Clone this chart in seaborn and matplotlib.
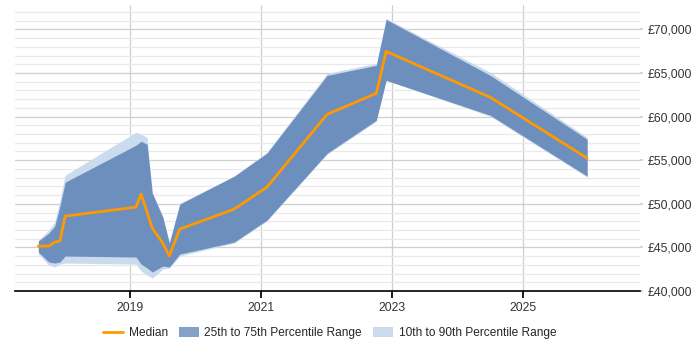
import matplotlib
matplotlib.use("Agg")
import matplotlib.pyplot as plt
import seaborn as sns
import pandas as pd
from matplotlib.ticker import FuncFormatter, MultipleLocator, FixedLocator
from matplotlib.patches import Patch
from matplotlib.lines import Line2D

# decimal years of each sample
years = [2017.60, 2017.76, 2017.85, 2017.93, 2018.01, 2019.09, 2019.17, 2019.26,
         2019.34, 2019.50, 2019.60, 2019.76, 2020.59, 2021.09, 2022.01, 2022.76,
         2022.91, 2024.50, 2025.98]
median = [45150, 45150, 45610, 45725, 48590, 49620, 51105, 49045,
          47215, 45495, 44010, 47100, 49390, 51910, 60265, 62670,
          67480, 62215, 55230]
p25 = [44465, 43320, 43205, 43320, 44010, 43895, 43090, 42635,
       42175, 42860, 42750, 44235, 45610, 48130, 55800, 59580,
       64160, 60150, 53170]
p75 = [45725, 46640, 47440, 49730, 52480, 56720, 57175, 56830,
       51220, 48470, 45500, 49960, 53170, 55800, 64730, 65880,
       71140, 64730, 57400]
p10 = [44235, 42975, 42750, 43090, 43205, 43090, 42290, 41830,
       41490, 42520, 42635, 44010, 45500, 48015, 55685, 59465,
       64160, 60035, 53055]
p90 = [45840, 46985, 47900, 50420, 53280, 58205, 57980, 57630,
       51335, 48590, 45610, 50075, 53170, 55915, 64960, 66105,
       71260, 65075, 57630]
x_ticks = [2019, 2021, 2023, 2025]
legend_labels = ["Median", "25th to 75th Percentile Range", "10th to 90th Percentile Range"]

df = pd.DataFrame({"year": years, "median": median, "p10": p10, "p25": p25,
                   "p75": p75, "p90": p90})

sns.set_theme(style="white")
plt.rcParams["font.family"] = ["Liberation Sans", "DejaVu Sans"]

fig = plt.figure(figsize=(7, 3.5), dpi=100)
ax = fig.add_axes([15/700, 1-291/350, 625/700, 286/350])

light_c = "#cbdbee"
dark_rgba = (30/255, 80/255, 150/255, 0.54)
orange = "#ff9900"

ax.fill_between(df["year"], df["p10"], df["p90"], color=light_c, lw=0, zorder=2)
ax.fill_between(df["year"], df["p25"], df["p75"], color=dark_rgba, lw=0, zorder=3)
sns.lineplot(data=df, x="year", y="median", color=orange, lw=2, ax=ax, zorder=4)

ax.set_xlim(2017.244, 2026.786)
ax.set_ylim(40000, 72800)

ax.yaxis.tick_right()
ax.yaxis.set_label_position("right")
ax.yaxis.set_major_locator(MultipleLocator(5000))
ax.yaxis.set_minor_locator(MultipleLocator(1000))
ax.yaxis.set_major_formatter(FuncFormatter(lambda v, p: "£{:,.0f}".format(v)))
ax.xaxis.set_major_locator(FixedLocator(x_ticks))
ax.xaxis.set_major_formatter(FuncFormatter(lambda v, p: "{:d}".format(int(round(v)))))

ax.grid(which="major", axis="both", color="#cfcfcf", lw=0.9, zorder=0)
ax.grid(which="minor", axis="y", color="#e9e9e9", lw=0.9, zorder=0)
ax.set_axisbelow(True)

for s in ["top", "left", "right"]:
    ax.spines[s].set_visible(False)
ax.spines["bottom"].set_color("black")
ax.spines["bottom"].set_linewidth(1.2)

ax.tick_params(axis="y", which="major", length=2.2, color="#cfcfcf", labelsize=8.8,
               labelcolor="#333333", pad=3.5, right=True, left=False)
ax.tick_params(axis="y", which="minor", length=0)
ax.tick_params(axis="x", which="major", length=5, color="black", labelsize=8.8,
               labelcolor="#333333", bottom=True, pad=3)
ax.set_xlabel("")
ax.set_ylabel("")

handles = [Line2D([0], [0], color=orange, lw=2),
           Patch(facecolor=(30/255, 80/255, 150/255, 0.54), edgecolor="none"),
           Patch(facecolor=light_c, edgecolor="none")]
fig.legend(handles, legend_labels, loc="center", bbox_to_anchor=(0.471, 1-333/350),
           ncol=3, frameon=False, fontsize=8.6, handlelength=1.65, handleheight=1.0,
           columnspacing=0.9, handletextpad=0.5)

fig.savefig("out.png", dpi=100)
